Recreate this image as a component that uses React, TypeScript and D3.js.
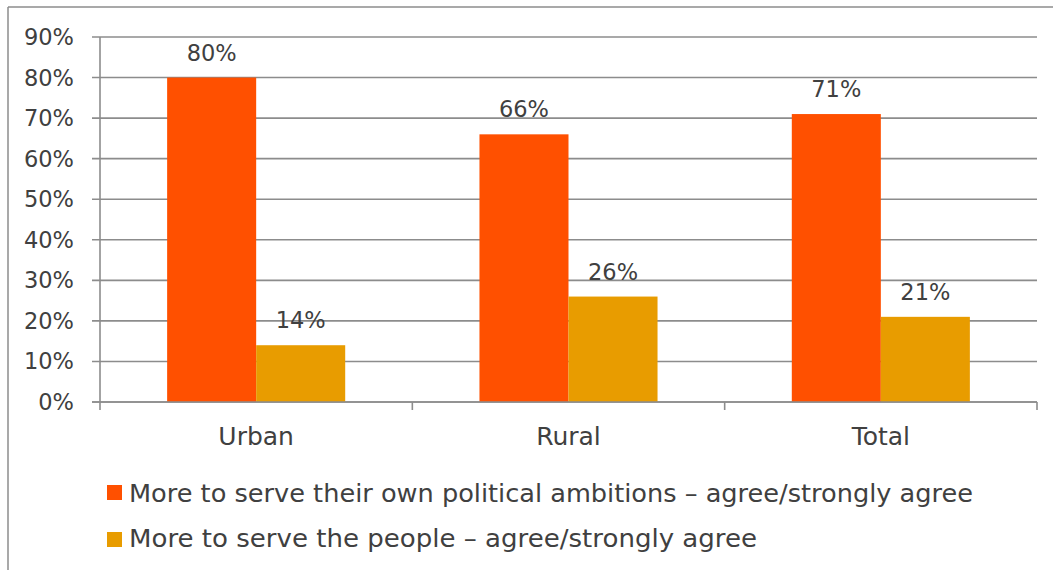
import React from "react";
import * as d3 from "d3";

const categories = ["Urban", "Rural", "Total"];
const seriesNames = [
  "More to serve their own political ambitions – agree/strongly agree",
  "More to serve the people – agree/strongly agree",
];
const ambitionsValues = [80, 66, 71];
const peopleValues = [14, 26, 21];
const yTicks = [0, 10, 20, 30, 40, 50, 60, 70, 80, 90];
const colors = ["#FF5000", "#E89C00"];

const W = 1053;
const H = 570;
const FONT = "'DejaVu Sans', sans-serif";
const TEXT = "#404040";
const GRID = "#8c8c8c";

export default function App() {
  const x0 = d3.scaleBand<string>().domain(categories).range([100, 1037]).padding(0);
  const x1 = d3
    .scaleBand<number>()
    .domain([0, 1])
    .range([0, x0.step()])
    .paddingInner(0)
    .paddingOuter(0.754);
  const y = d3.scaleLinear().domain([0, 90]).range([402, 37]);
  const series = [ambitionsValues, peopleValues];

  return (
    <svg
      width={W}
      height={H}
      style={{ position: "absolute", left: 0, top: 0, background: "#fff" }}
      fontFamily={FONT}
    >
      {/* outer frame */}
      <line x1={8} x2={W} y1={7} y2={7} stroke={GRID} strokeWidth={1.5} />
      <line x1={8} x2={8} y1={7} y2={H} stroke={GRID} strokeWidth={1.5} />

      {/* gridlines and y ticks */}
      {yTicks.map((t) => (
        <g key={t}>
          <line x1={92} x2={1037} y1={y(t)} y2={y(t)} stroke={GRID} strokeWidth={1.6} />
          <text
            x={74}
            y={y(t)}
            textAnchor="end"
            dominantBaseline="central"
            fontSize={22.5}
            fill={TEXT}
          >
            {t}%
          </text>
        </g>
      ))}
      {/* y axis */}
      <line x1={100} x2={100} y1={37} y2={410} stroke={GRID} strokeWidth={1.6} />

      {/* x ticks */}
      {categories.map((c) => (
        <line
          key={"t" + c}
          x1={(x0(c) as number) + x0.step()}
          x2={(x0(c) as number) + x0.step()}
          y1={402}
          y2={410}
          stroke={GRID}
          strokeWidth={1.6}
        />
      ))}

      {/* bars */}
      {categories.map((c, ci) =>
        series.map((vals, si) => {
          const bx = (x0(c) as number) + (x1(si) as number);
          const bw = x1.bandwidth();
          return (
            <g key={c + si}>
              <rect
                x={bx}
                y={y(vals[ci])}
                width={bw}
                height={y(0) - y(vals[ci])}
                fill={colors[si]}
              />
              <text
                x={bx + bw / 2}
                y={y(vals[ci]) - 17}
                textAnchor="middle"
                fontSize={22.5}
                fill={TEXT}
              >
                {vals[ci]}%
              </text>
            </g>
          );
        })
      )}
      {/* axis line over bars */}
      <line x1={92} x2={1037} y1={y(0)} y2={y(0)} stroke={GRID} strokeWidth={1.6} />

      {/* category labels */}
      {categories.map((c) => (
        <text
          key={"l" + c}
          x={(x0(c) as number) + x0.step() / 2}
          y={445}
          textAnchor="middle"
          fontSize={25}
          fill={TEXT}
        >
          {c}
        </text>
      ))}

      {/* legend */}
      {seriesNames.map((n, i) => (
        <g key={n}>
          <rect x={107} y={485 + i * 47} width={15} height={15} fill={colors[i]} />
          <text
            x={129}
            y={502 + i * 45}
            fontSize={24.5}
            fill={TEXT}
            textLength={i === 0 ? 844 : 628}
            lengthAdjust="spacingAndGlyphs"
          >
            {n}
          </text>
        </g>
      ))}
    </svg>
  );
}
